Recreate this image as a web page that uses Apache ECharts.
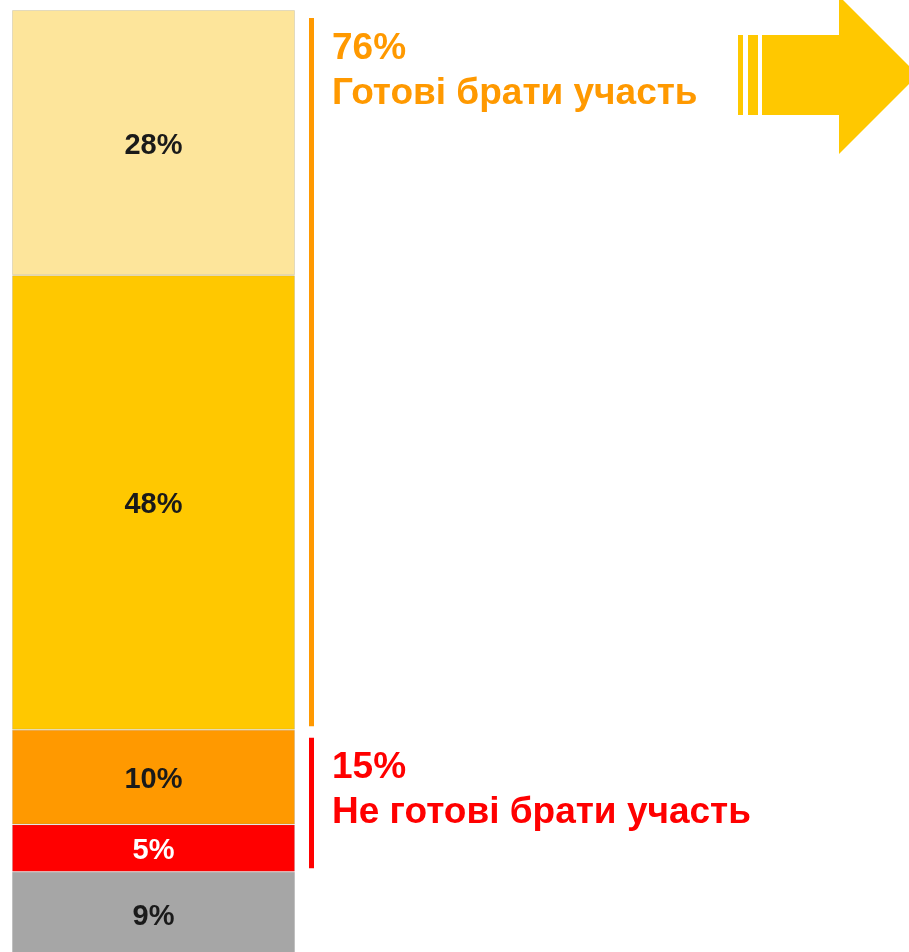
<!DOCTYPE html>
<html>
<head>
<meta charset="utf-8">
<script src="https://cdn.jsdelivr.net/npm/echarts@6/dist/echarts.min.js"></script>
<style>
html, body { margin: 0; padding: 0; background: #fff; overflow: hidden; }
#chart { width: 909px; height: 957px; }
</style>
</head>
<body>
<div id="chart"></div>
<script>
// дані, знизу вгору
var categories = ['Усі'];
var segmentNames = ['Важко відповісти', 'Точно ні', 'Скоріше ні', 'Скоріше так', 'Точно так'];
var segmentValues = [9, 5, 10, 48, 28];
var groupLabels = ['Готові брати участь', 'Не готові брати участь'];
var groupValues = [76, 15];

var segmentColors = ['#a6a6a6', '#ff0000', '#ff9900', '#ffc800', '#fde59b'];
var labelColors = ['#1a1a1a', '#ffffff', '#1a1a1a', '#1a1a1a', '#1a1a1a'];
var groupColors = ['#ff9900', '#ff0000'];
var FONT = '"Liberation Sans", Arial, sans-serif';

// межі груп рахуємо з сегментів
var readyStart = segmentValues[0] + segmentValues[1] + segmentValues[2];
var notReadyStart = segmentValues[0];
var groupData = [
    [readyStart, readyStart + groupValues[0], groupValues[0], 0],
    [notReadyStart, notReadyStart + groupValues[1], groupValues[1], 1]
];

// полотно трохи вище вікна: низ сірого сегмента обрізаний, як в оригіналі
var myChart = echarts.init(document.getElementById('chart'));

var series = segmentValues.map(function (v, i) {
    return {
        name: segmentNames[i],
        type: 'bar',
        stack: 'total',
        barWidth: '100%',
        data: [v],
        itemStyle: {
            color: segmentColors[i],
            borderColor: 'rgba(120,120,120,0.2)',
            borderWidth: 1
        },
        label: {
            show: true,
            position: 'inside',
            offset: [0, 3],
            formatter: '{c}%',
            color: labelColors[i],
            fontFamily: FONT,
            fontWeight: 'bold',
            fontSize: 29
        }
    };
});

series.push({
    type: 'custom',
    data: groupData,
    encode: { y: [0, 1] },
    renderItem: function (params, api) {
        var top = api.coord([0, api.value(1)])[1];
        var bottom = api.coord([0, api.value(0)])[1];
        var idx = api.value(3);
        var x = params.coordSys.x + params.coordSys.width + 14;
        var color = groupColors[idx];
        return {
            type: 'group',
            children: [{
                type: 'rect',
                shape: { x: x, y: top + 8, width: 5, height: bottom - top - 11.5 },
                style: { fill: color }
            }, {
                type: 'text',
                x: x + 23,
                y: top + 16,
                style: {
                    text: api.value(2) + '%\n' + groupLabels[idx],
                    fill: color,
                    font: 'bold 37px ' + FONT,
                    lineHeight: 45,
                    verticalAlign: 'top'
                }
            }]
        };
    },
    z: 5
});

myChart.setOption({
    animation: false,
    grid: {
        left: 12,
        top: 10,
        width: 283,
        bottom: 0
    },
    xAxis: {
        type: 'category',
        data: categories,
        show: false
    },
    yAxis: {
        type: 'value',
        min: 0,
        max: 100,
        show: false
    },
    graphic: [{
        // стрілка праворуч
        type: 'group',
        children: [
            { type: 'rect', shape: { x: 738, y: 35, width: 5, height: 80 }, style: { fill: '#ffc800' } },
            { type: 'rect', shape: { x: 748, y: 35, width: 10, height: 80 }, style: { fill: '#ffc800' } },
            { type: 'rect', shape: { x: 762, y: 35, width: 78, height: 80 }, style: { fill: '#ffc800' } },
            { type: 'polygon', shape: { points: [[839, -4], [918, 75], [839, 154]] }, style: { fill: '#ffc800' } }
        ]
    }],
    series: series
});
</script>
</body>
</html>
